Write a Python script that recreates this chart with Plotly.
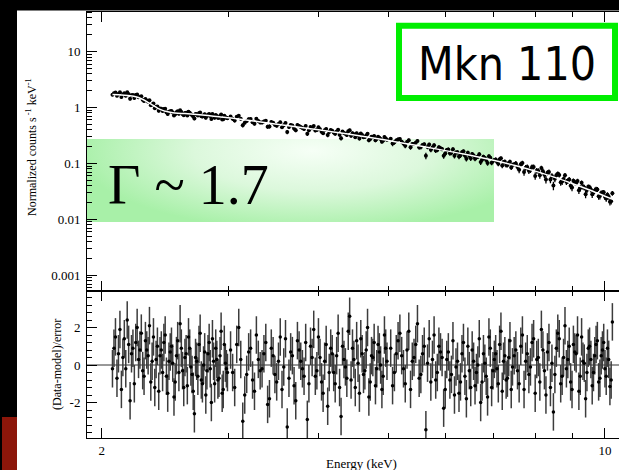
import base64
import plotly.graph_objects as go

# ---------------- data ----------------
# Spectrum bins (keV). Second block interleaves with the first one.
energy_kev = [
    2.07, 2.09, 2.11, 2.13, 2.15, 2.17, 2.19, 2.21, 2.23, 2.25, 2.27, 2.29, 2.31, 2.33, 2.35, 2.37,
    2.39, 2.41, 2.43, 2.45, 2.47, 2.49, 2.51, 2.53, 2.55, 2.57, 2.59, 2.61, 2.63, 2.65, 2.67, 2.69,
    2.71, 2.73, 2.75, 2.77, 2.79, 2.81, 2.83, 2.85, 2.87, 2.89, 2.91, 2.93, 2.95, 2.97, 2.99,
    3.02, 3.06, 3.10, 3.14, 3.18, 3.22, 3.26, 3.30, 3.34, 3.38, 3.42, 3.46, 3.50, 3.54, 3.58, 3.62,
    3.66, 3.70, 3.74, 3.78, 3.82, 3.86, 3.90, 3.94, 3.98, 4.02, 4.06, 4.10, 4.14, 4.18, 4.22, 4.26,
    4.30, 4.34, 4.38, 4.42, 4.46, 4.50, 4.54, 4.58, 4.62, 4.66, 4.70, 4.74, 4.78, 4.82, 4.86, 4.90,
    4.94, 4.98,
    5.04, 5.10, 5.16, 5.22, 5.28, 5.34, 5.40, 5.46, 5.52, 5.58, 5.64, 5.70, 5.76, 5.82, 5.88, 5.94,
    6.00, 6.06, 6.12, 6.18, 6.24, 6.30, 6.36, 6.42, 6.48, 6.54, 6.60, 6.66, 6.72, 6.78, 6.84, 6.90,
    6.96, 7.02, 7.08, 7.14, 7.20, 7.26, 7.32, 7.38, 7.44,
    7.52, 7.60, 7.68, 7.76, 7.84, 7.92, 8.00, 8.08, 8.16, 8.24, 8.32, 8.40, 8.48, 8.56, 8.64, 8.72,
    8.80, 8.88, 8.96, 9.04, 9.12, 9.20, 9.28, 9.36, 9.44, 9.52, 9.60, 9.68, 9.76, 9.84, 9.92, 10.00,
    10.08, 10.16, 10.24,
    # interleaved bins
    2.08, 2.10, 2.12, 2.14, 2.16, 2.18, 2.20, 2.22, 2.24, 2.26, 2.28, 2.30, 2.32, 2.34, 2.36, 2.38,
    2.40, 2.42, 2.44, 2.46, 2.48, 2.50, 2.52, 2.54, 2.56, 2.58, 2.60, 2.62, 2.64, 2.66, 2.68, 2.70,
    2.72, 2.74, 2.76, 2.78, 2.80, 2.82, 2.84, 2.86, 2.88, 2.90, 2.92, 2.94, 2.96, 2.98,
    3.04, 3.08, 3.12, 3.16, 3.20, 3.24, 3.28, 3.32, 3.36, 3.40, 3.44, 3.48, 3.52, 3.56, 3.60, 3.64,
    3.68, 3.72, 3.76, 3.80, 3.84, 3.88, 3.92, 3.96, 4.00, 4.04, 4.08, 4.12, 4.16, 4.20, 4.24, 4.28,
    4.32, 4.36, 4.40, 4.44, 4.48, 4.52, 4.56, 4.60, 4.64, 4.68, 4.72, 4.76, 4.80, 4.84, 4.88, 4.92,
    4.96,
    5.07, 5.13, 5.19, 5.25, 5.31, 5.37, 5.43, 5.49, 5.55, 5.61, 5.67, 5.73, 5.79, 5.85, 5.91, 5.97,
    6.03, 6.09, 6.15, 6.21, 6.27, 6.33, 6.39, 6.45, 6.51, 6.57, 6.63, 6.69, 6.75, 6.81, 6.87, 6.93,
    6.99, 7.05, 7.11, 7.17, 7.23, 7.29, 7.35, 7.41, 7.48,
    7.56, 7.64, 7.72, 7.80, 7.88, 7.96, 8.04, 8.12, 8.20, 8.28, 8.36, 8.44, 8.52, 8.60, 8.68, 8.76,
    8.84, 8.92, 9.00, 9.08, 9.16, 9.24, 9.32, 9.40, 9.48, 9.56, 9.64, 9.72, 9.80, 9.88, 9.96, 10.04,
    10.12, 10.20,
]

norm_counts = [
    1.70, 1.86, 1.75, 1.54, 1.80, 1.88, 1.44, 1.68, 1.67, 1.53, 1.59, 1.31, 1.34, 1.35, 1.13, 0.974,
    1.04, 0.963, 0.869, 0.948, 0.764, 0.860, 0.815, 0.757, 0.857, 0.894, 0.771, 0.799, 0.723, 0.809, 0.739, 0.638,
    0.759, 0.793, 0.703, 0.732, 0.656, 0.746, 0.704, 0.765, 0.657, 0.704, 0.656, 0.752, 0.621, 0.671, 0.645,
    0.689, 0.586, 0.714, 0.484, 0.578, 0.622, 0.516, 0.573, 0.541, 0.583, 0.460, 0.533, 0.473, 0.548, 0.483, 0.366,
    0.490, 0.422, 0.490, 0.448, 0.416, 0.340, 0.448, 0.466, 0.396, 0.408, 0.349, 0.414, 0.366, 0.387, 0.339, 0.401,
    0.283, 0.352, 0.322, 0.394, 0.349, 0.296, 0.319, 0.343, 0.295, 0.318, 0.260, 0.300, 0.309, 0.277, 0.290, 0.246,
    0.297, 0.266,
    0.276, 0.239, 0.269, 0.245, 0.208, 0.260, 0.223, 0.235, 0.196, 0.215, 0.137, 0.218, 0.194, 0.171, 0.195, 0.181,
    0.151, 0.178, 0.156, 0.137, 0.159, 0.140, 0.165, 0.122, 0.137, 0.148, 0.122, 0.132, 0.106, 0.132, 0.115, 0.135,
    0.103, 0.116, 0.108, 0.119, 0.0918, 0.108, 0.0937, 0.108, 0.0941,
    0.100, 0.0776, 0.1016, 0.0841, 0.0744, 0.0869, 0.0599, 0.0738, 0.0834, 0.0629, 0.0681, 0.0515, 0.0403, 0.0614, 0.0624, 0.0476,
    0.0616, 0.0488, 0.0401, 0.0489, 0.0446, 0.0333, 0.0453, 0.0372, 0.0335, 0.0377, 0.0281, 0.0330, 0.0344, 0.0262, 0.0299, 0.0254,
    0.0277, 0.0207, 0.0293,
    # interleaved bins
    1.805, 1.626, 1.874, 1.708, 1.630, 1.738, 1.663, 1.481, 1.714, 1.541, 1.375, 1.423, 1.277, 1.097, 1.183, 1.033,
    0.877, 0.956, 0.941, 0.822, 0.842, 0.867, 0.723, 0.821, 0.773, 0.830, 0.726, 0.805, 0.840, 0.760, 0.695, 0.771,
    0.720, 0.817, 0.691, 0.760, 0.710, 0.768, 0.624, 0.711, 0.733, 0.655, 0.702, 0.615, 0.714, 0.656,
    0.628, 0.682, 0.633, 0.538, 0.621, 0.546, 0.630, 0.543, 0.566, 0.454, 0.553, 0.492, 0.508, 0.446, 0.528, 0.448,
    0.478, 0.393, 0.470, 0.432, 0.467, 0.393, 0.427, 0.390, 0.443, 0.369, 0.392, 0.322, 0.398, 0.357, 0.374, 0.325,
    0.372, 0.340, 0.378, 0.312, 0.332, 0.349, 0.281, 0.322, 0.297, 0.340, 0.274, 0.296, 0.261, 0.300, 0.274, 0.258,
    0.281,
    0.227, 0.258, 0.274, 0.227, 0.243, 0.196, 0.224, 0.253, 0.197, 0.220, 0.198, 0.176, 0.213, 0.175, 0.188, 0.137,
    0.174, 0.153, 0.180, 0.157, 0.133, 0.159, 0.139, 0.156, 0.124, 0.139, 0.129, 0.147, 0.117, 0.125, 0.102, 0.127,
    0.111, 0.118, 0.0992, 0.124, 0.106, 0.0942, 0.102, 0.0848, 0.0973,
    0.0865, 0.0971, 0.0706, 0.0864, 0.0766, 0.0870, 0.0743, 0.0617, 0.0730, 0.0518, 0.0704, 0.0596, 0.0531, 0.0655, 0.0461, 0.0527,
    0.0470, 0.0516, 0.0372, 0.0460, 0.0486, 0.0364, 0.0385, 0.0282, 0.0382, 0.0342, 0.0302, 0.0345, 0.0260, 0.0296, 0.0305, 0.0237,
    0.0254, 0.0212,
]

norm_counts_err = [
    0.103, 0.102, 0.101, 0.101, 0.100, 0.098, 0.097, 0.095, 0.094, 0.090, 0.086, 0.082, 0.077, 0.072, 0.067, 0.063,
    0.059, 0.056, 0.053, 0.052, 0.050, 0.050, 0.049, 0.048, 0.048, 0.047, 0.047, 0.047, 0.046, 0.046, 0.046, 0.045,
    0.045, 0.045, 0.044, 0.044, 0.044, 0.043, 0.043, 0.042, 0.042, 0.042, 0.041, 0.041, 0.040, 0.040, 0.040,
    0.046, 0.045, 0.044, 0.043, 0.042, 0.041, 0.040, 0.039, 0.038, 0.038, 0.037, 0.036, 0.035, 0.035, 0.034, 0.033,
    0.033, 0.032, 0.031, 0.031, 0.030, 0.030, 0.029, 0.029, 0.028, 0.028, 0.027, 0.027, 0.026, 0.026, 0.025, 0.025,
    0.025, 0.024, 0.024, 0.023, 0.023, 0.023, 0.022, 0.022, 0.021, 0.021, 0.021, 0.020, 0.020, 0.020, 0.019, 0.019,
    0.019, 0.018,
    0.023, 0.022, 0.022, 0.021, 0.021, 0.020, 0.020, 0.019, 0.019, 0.018, 0.018, 0.017, 0.017, 0.017, 0.016, 0.016,
    0.015, 0.015, 0.015, 0.014, 0.014, 0.014, 0.013, 0.013, 0.013, 0.012, 0.012, 0.012, 0.012, 0.011, 0.011, 0.011,
    0.010, 0.010, 0.0099, 0.0097, 0.0095, 0.0093, 0.0090, 0.0087, 0.0086,
    0.0109, 0.0106, 0.0102, 0.0099, 0.0095, 0.0091, 0.0088, 0.0084, 0.0081, 0.0078, 0.0075, 0.0072, 0.0069, 0.0066, 0.0064, 0.0062,
    0.0059, 0.0057, 0.0054, 0.0052, 0.0050, 0.0048, 0.0046, 0.0044, 0.0042, 0.0040, 0.0039, 0.0037, 0.0036, 0.0034, 0.0033, 0.0031,
    0.0030, 0.0029, 0.0028,
    # interleaved bins
    0.103, 0.102, 0.101, 0.100, 0.099, 0.098, 0.096, 0.095, 0.092, 0.088, 0.084, 0.079, 0.074, 0.070, 0.065, 0.061,
    0.057, 0.055, 0.053, 0.051, 0.050, 0.049, 0.048, 0.048, 0.048, 0.047, 0.047, 0.047, 0.046, 0.046, 0.046, 0.045,
    0.045, 0.044, 0.044, 0.044, 0.043, 0.043, 0.043, 0.042, 0.042, 0.041, 0.041, 0.041, 0.040, 0.040,
    0.045, 0.044, 0.043, 0.042, 0.041, 0.040, 0.040, 0.039, 0.038, 0.037, 0.036, 0.036, 0.035, 0.034, 0.034, 0.033,
    0.032, 0.032, 0.031, 0.031, 0.030, 0.030, 0.029, 0.029, 0.028, 0.028, 0.027, 0.027, 0.026, 0.026, 0.025, 0.025,
    0.024, 0.024, 0.024, 0.023, 0.023, 0.022, 0.022, 0.022, 0.021, 0.021, 0.020, 0.020, 0.020, 0.019, 0.019, 0.019,
    0.019,
    0.023, 0.022, 0.021, 0.021, 0.020, 0.020, 0.019, 0.019, 0.019, 0.018, 0.018, 0.017, 0.017, 0.016, 0.016, 0.016,
    0.015, 0.015, 0.015, 0.014, 0.014, 0.014, 0.013, 0.013, 0.013, 0.012, 0.012, 0.012, 0.011, 0.011, 0.011, 0.011,
    0.010, 0.010, 0.0098, 0.0096, 0.0094, 0.0091, 0.0089, 0.0086, 0.0084,
    0.0108, 0.0104, 0.0100, 0.0097, 0.0093, 0.0089, 0.0086, 0.0083, 0.0080, 0.0077, 0.0074, 0.0071, 0.0068, 0.0065, 0.0063, 0.0060,
    0.0058, 0.0055, 0.0053, 0.0051, 0.0049, 0.0047, 0.0045, 0.0043, 0.0041, 0.0040, 0.0038, 0.0037, 0.0035, 0.0034, 0.0032, 0.0031,
    0.0029, 0.0028,
]

residuals = [
    -0.2, 1.5, 0.6, -1.3, 1.4, 2.4, -1.9, 0.9, 1.2, 0.3, 1.7, -0.6, 0.8, 2.1, 0.2, -1.2,
    1.0, 0.5, -0.4, 1.6, -1.5, 0.7, 0.1, -0.9, 1.3, 2.2, -0.3, 0.4, -1.1, 0.9, -0.5, -2.6,
    0.2, 1.1, -0.8, 0.0, -1.6, 0.6, -0.2, 1.4, -1.0, 0.3, -0.7, 1.8, -1.3, 0.1, -0.4,
    0.8, -1.2, 2.0, -3.0, -0.5, 0.9, -1.4, 0.3, -0.2, 1.2, -1.8, 0.5, -0.9, 1.5, -0.1, -3.3,
    0.7, -1.1, 1.3, 0.2, -0.6, -2.9, 1.0, 1.9, -0.3, 0.4, -1.5, 1.1, -0.4, 0.6, -1.0, 1.7,
    -2.75, 0.3, -0.7, 2.6, 0.9, -1.2, 0.1, 1.4, -0.5, 0.8, -1.7, 0.5, 1.2, -0.2, 0.7, -1.3,
    1.6, 0.2,
    0.9, -0.4, 1.3, 0.5, -1.0, 1.8, 0.2, 1.1, -0.7, 0.6, -3.45, 1.4, 0.3, -0.8, 1.0, 0.4,
    -1.3, 0.7, -0.5, -1.6, 0.2, -0.9, 1.2, -1.8, -0.3, 0.8, -1.1, 0.0, -2.0, 0.6, -0.6, 1.5,
    -1.2, 0.3, -0.2, 1.1, -1.4, 0.5, -0.7, 1.3, -0.1,
    0.8, -1.0, 1.6, 0.2, -0.5, 1.2, -1.5, 0.4, 1.9, -0.3, 0.7, -1.2, -2.5, 0.9, 1.4, -0.6,
    2.1, 0.3, -0.9, 1.1, 0.6, -1.4, 1.5, 0.1, -0.4, 1.0, -1.1, 0.5, 1.3, -0.7, 0.8, -0.2,
    0.9, -1.15, 2.3,
    # interleaved bins
    0.9, -0.7, 1.9, 0.4, -0.2, 1.1, 0.6, -1.0, 2.0, 0.8, -0.3, 1.3, 0.5, -0.9, 1.5, 0.3,
    -1.4, 0.8, 1.2, -0.6, 0.2, 1.0, -1.7, 0.5, -0.4, 0.9, -1.2, 0.6, 1.5, -0.1, -1.4, 0.4,
    -0.6, 1.7, -1.0, 0.7, -0.3, 1.2, -2.0, 0.2, 0.9, -0.8, 0.5, -1.5, 1.1, -0.2,
    -0.4, 1.1, 0.3, -1.6, 0.7, -0.8, 1.6, -0.3, 0.6, -2.1, 0.9, -0.5, 0.2, -1.3, 1.4, -0.7,
    0.5, -1.9, 0.8, -0.2, 1.2, -1.0, 0.4, -0.6, 1.5, -0.9, 0.2, -2.2, 0.9, -0.4, 0.5, -1.2,
    1.0, -0.1, 1.8, -0.8, 0.3, 1.3, -1.5, 0.6, -0.3, 2.0, -0.9, 0.4, -1.1, 1.1, 0.0, -0.6,
    0.9,
    -1.1, 0.6, 1.7, -0.2, 0.8, -1.3, 0.4, 2.2, -0.5, 1.0, 0.1, -0.9, 1.6, -0.4, 0.7, -2.3,
    0.3, -0.8, 1.3, -0.1, -1.5, 0.6, -0.6, 1.0, -1.2, 0.2, -0.4, 1.4, -0.9, 0.1, -1.7, 0.9,
    -0.3, 0.6, -1.0, 1.8, 0.2, -0.8, 0.4, -1.3, 0.5,
    -0.3, 1.0, -1.3, 0.6, -0.1, 1.4, 0.3, -0.9, 0.8, -1.6, 1.2, 0.1, -0.5, 1.7, -1.0, 0.4,
    -0.2, 1.0, -1.3, 0.7, 1.6, -0.6, 0.2, -1.8, 0.9, 0.3, -0.4, 1.1, -0.9, 0.5, 1.2, -0.6,
    0.3, -0.8,
]

model_energy = [2.07, 2.11, 2.15, 2.19, 2.23, 2.27, 2.31, 2.35, 2.39, 2.43, 2.47, 2.51, 2.55, 2.61,
                2.71, 2.81, 2.91, 3.06, 3.25, 3.44, 3.70, 4.00, 4.35, 4.72, 5.20, 5.90, 6.50, 7.00,
                7.50, 8.00, 8.50, 9.00, 9.50, 10.00, 10.26]
model_counts = [1.72, 1.69, 1.66, 1.62, 1.56, 1.44, 1.28, 1.12, 0.98, 0.89, 0.84, 0.81, 0.795, 0.78,
                0.75, 0.72, 0.685, 0.64, 0.575, 0.52, 0.457, 0.40, 0.343, 0.2925, 0.236, 0.177, 0.140, 0.114,
                0.092, 0.073, 0.057, 0.044, 0.034, 0.026, 0.0228]

assert len(energy_kev) == len(norm_counts) == len(norm_counts_err) == len(residuals)
assert len(model_energy) == len(model_counts)

y_tick_vals = [0.001, 0.01, 0.1, 1, 10]
y_tick_text = ["0.001", "0.01", "0.1", "1", "10"]
x_tick_vals = [2, 10]
x_tick_text = ["2", "10"]
x_minor_vals = [3, 4, 5, 6, 7, 8, 9]
res_tick_vals = [-2, 0, 2]
res_tick_text = ["-2", "0", "2"]

# ---------------- layout helpers (pixel -> paper) ----------------
W, H = 619, 470


def px(p):
    return p / W


def py(p):
    return 1 - p / H


SERIF = "Liberation Serif, Times New Roman, serif"
y_minor_vals = [m * 10 ** e for e in range(-4, 2) for m in range(2, 10)]

fig = go.Figure()

fig.add_trace(go.Scatter(
    x=energy_kev, y=norm_counts, mode="markers",
    marker=dict(color="black", size=4),
    error_y=dict(type="data", array=norm_counts_err, color="black", thickness=1.3, width=0),
    xaxis="x", yaxis="y", showlegend=False, hoverinfo="skip"))
fig.add_trace(go.Scatter(
    x=model_energy, y=model_counts, mode="lines",
    line=dict(color="white", width=1.5, shape="spline", smoothing=0.6),
    xaxis="x", yaxis="y", showlegend=False, hoverinfo="skip"))
fig.add_trace(go.Scatter(
    x=energy_kev, y=residuals, mode="markers",
    marker=dict(color="black", size=3.5),
    error_y=dict(type="constant", value=1, color="#3c3c3c", thickness=1.5, width=0),
    xaxis="x2", yaxis="y2", showlegend=False, hoverinfo="skip"))

axis_common = dict(showline=True, linecolor="black", linewidth=1, showgrid=False, zeroline=False,
                   ticks="inside", tickcolor="black", tickwidth=1,
                   tickfont=dict(family=SERIF, size=13, color="black"))

x_range = [0.2806, 1.0195]
fig.update_layout(
    width=W, height=H, margin=dict(l=0, r=0, t=0, b=0),
    paper_bgcolor="white", plot_bgcolor="rgba(0,0,0,0)", showlegend=False,
    xaxis=dict(type="log", range=x_range, domain=[px(87), 1.0], anchor="y", mirror="ticks",
               tickmode="array", tickvals=x_tick_vals, ticklen=10, showticklabels=False,
               minor=dict(tickmode="array", tickvals=x_minor_vals, ticklen=5, ticks="inside",
                          tickcolor="black", tickwidth=1),
               **axis_common),
    yaxis=dict(type="log", range=[-3.280, 1.718], domain=[py(291), py(11.5)], anchor="x",
               mirror=False, tickmode="array", tickvals=y_tick_vals, ticktext=y_tick_text, ticklen=10,
               ticklabelstandoff=3,
               minor=dict(tickmode="array", tickvals=y_minor_vals, ticklen=5, ticks="inside",
                          tickcolor="black", tickwidth=1),
               **axis_common),
    xaxis2=dict(type="log", range=x_range, domain=[px(87), 1.0], anchor="y2", mirror="ticks",
                tickmode="array", tickvals=x_tick_vals, ticktext=x_tick_text, ticklen=10,
                minor=dict(tickmode="array", tickvals=x_minor_vals, ticklen=5, ticks="inside",
                           tickcolor="black", tickwidth=1),
                **axis_common),
    yaxis2=dict(range=[-3.893, 3.947], domain=[py(438), py(291)], anchor="x2", mirror=False,
                tickmode="array", tickvals=res_tick_vals, ticktext=res_tick_text, ticklen=10,
                ticklabelstandoff=3,
                minor=dict(tickmode="linear", tick0=0, dtick=0.4, ticklen=5, ticks="inside",
                           tickcolor="black", tickwidth=1),
                **axis_common),
)

# green radial-gradient panel behind the photon index label
svg = ("<svg xmlns='http://www.w3.org/2000/svg' width='407' height='83' viewBox='0 0 407 83' "
       "preserveAspectRatio='none'><defs><radialGradient id='g' gradientUnits='userSpaceOnUse' "
       "cx='225' cy='12' r='235' gradientTransform='translate(225 12) scale(1 0.34) translate(-225 -12)'>"
       "<stop offset='0' stop-color='#f6fff6'/><stop offset='0.5' stop-color='#dcf8dc'/>"
       "<stop offset='1' stop-color='#a8f0a8'/></radialGradient></defs>"
       "<rect width='407' height='83' fill='url(#g)'/></svg>")
src = "data:image/svg+xml;base64," + base64.b64encode(svg.encode()).decode()
fig.add_layout_image(dict(source=src, xref="paper", yref="paper", x=px(87), y=py(139),
                          sizex=px(494) - px(87), sizey=83 / H, xanchor="left", yanchor="top",
                          sizing="stretch", layer="below"))

# zero line of residual panel
fig.add_shape(type="line", xref="x2 domain", x0=0, x1=1, yref="y2", y0=0, y1=0,
              line=dict(color="#333333", width=1), layer="below")

# slide frame: black bands and dark red block
fig.add_shape(type="rect", xref="paper", yref="paper", x0=0, x1=px(17), y0=0, y1=1,
              fillcolor="black", line=dict(width=0), layer="above")
fig.add_shape(type="rect", xref="paper", yref="paper", x0=0, x1=1, y0=py(10.5), y1=1,
              fillcolor="black", line=dict(width=0), layer="above")
fig.add_shape(type="rect", xref="paper", yref="paper", x0=px(2), x1=px(17), y0=0, y1=py(417),
              fillcolor="rgb(140,22,10)", line=dict(width=0), layer="above")

# Mkn 110 box
fig.add_shape(type="rect", xref="paper", yref="paper", x0=px(399), x1=px(615), y0=py(98), y1=py(25.7),
              fillcolor="white", line=dict(color="rgb(0,238,0)", width=6), layer="above")

annotations = [
    dict(text="Mkn 110", x=px(507), y=py(64), xanchor="center", yanchor="middle",
         font=dict(family="DejaVu Sans Condensed, DejaVu Sans, sans-serif", size=46, color="black")),
    dict(text="Γ ~ 1.7", x=px(106), y=py(185), xanchor="left", yanchor="middle",
         font=dict(family=SERIF, size=56, color="black")),
    dict(text="Normalized counts s<sup> -1</sup> keV<sup>-1</sup>", x=px(32), y=py(147), textangle=-90,
         xanchor="center", yanchor="middle", font=dict(family=SERIF, size=12, color="black")),
    dict(text="(Data-model)/error", x=px(57), y=py(365), textangle=-90,
         xanchor="center", yanchor="middle", font=dict(family=SERIF, size=12, color="black")),
    dict(text="Energy (keV)", x=px(361), y=py(463), xanchor="center", yanchor="middle",
         font=dict(family=SERIF, size=13, color="black")),
]
for a in annotations:
    fig.add_annotation(xref="paper", yref="paper", showarrow=False, **a)

fig.write_html("out.html")
